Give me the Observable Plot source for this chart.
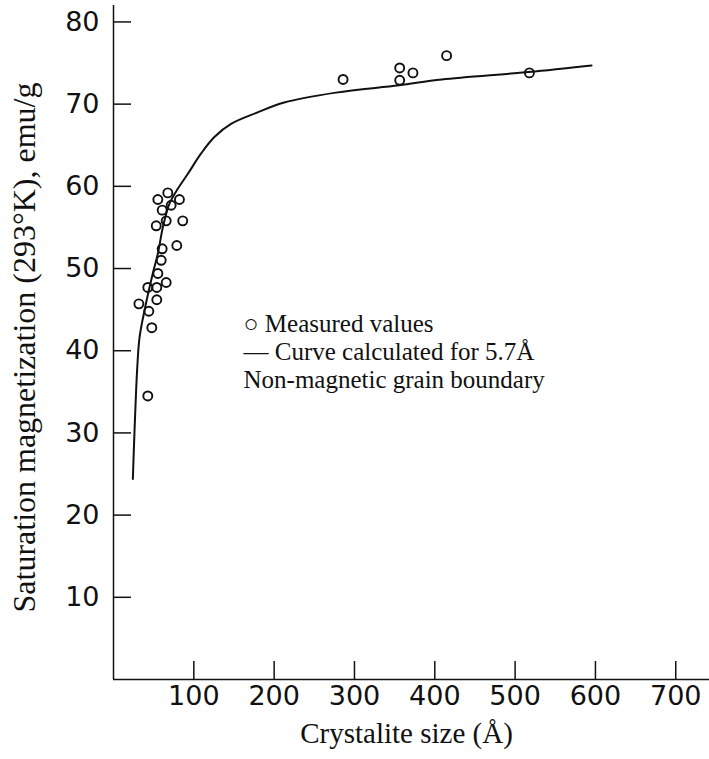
<!DOCTYPE html>
<html><head><meta charset="utf-8">
<script src="https://cdn.jsdelivr.net/npm/d3@7"></script>
<script src="https://cdn.jsdelivr.net/npm/@observablehq/plot@0.6"></script>
<style>body{margin:0;background:#fff} svg{display:block}</style>
</head><body><div id="chart"></div>
<script>
// Measured values (crystallite size in Å, saturation magnetization emu/g)
const measuredSize = [67.6, 55.2, 82.1, 71.8, 60.6, 65.6, 86.2, 53.2, 78.8, 60.6, 59.4, 55.2, 65.6, 42.7, 53.9, 53.9, 31.6, 44.0, 47.7, 42.7, 285.8, 356.3, 356.3, 372.8, 414.7, 517.8];
const measuredMs   = [59.2, 58.4, 58.4, 57.7, 57.1, 55.8, 55.8, 55.2, 52.8, 52.4, 51.0, 49.4, 48.3, 47.7, 47.7, 46.2, 45.7, 44.8, 42.8, 34.5, 73.0, 74.4, 72.9, 73.8, 75.9, 73.8];
// Calculated curve (5.7 Å non-magnetic grain boundary)
const curveSize = [24.1, 26.2, 29.6, 32.4, 38.6, 48.9, 55.2, 61.4, 69.7, 80.0, 92.4, 109.1, 125.6, 146.3, 179.4, 212.5, 276.8, 355.4, 408.8, 516.9, 595.2];
const curveMs   = [24.4, 30.3, 38.0, 41.6, 44.9, 49.4, 51.8, 55.0, 57.9, 59.7, 61.5, 64.0, 66.0, 67.6, 69.0, 70.2, 71.4, 72.3, 73.0, 73.9, 74.7];
const xTicks = [100, 200, 300, 400, 500, 600, 700];
const yTicks = [10, 20, 30, 40, 50, 60, 70, 80];
const xLabel = "Crystalite size (Å)";
const yLabel = "Saturation magnetization (293°K), emu/g";
const legendLines = ["○ Measured values", "— Curve calculated for 5.7Å", "Non-magnetic grain boundary"];

const measured = measuredSize.map((s, i) => ({size: s, ms: measuredMs[i]}));
const curve = curveSize.map((s, i) => ({size: s, ms: curveMs[i]}));

const ink = "#111";
const tickFont = "'DejaVu Sans', sans-serif";
const serif = "'Liberation Serif', 'Times New Roman', serif";

const legendMarks = legendLines.map((line, i) =>
  Plot.text([line], {frameAnchor: "top-left", dx: 130, dy: 309 + i * 28, fontSize: 25, fontFamily: serif, fill: ink, textAnchor: "start"})
);

const chart = Plot.plot({
  width: 709,
  height: 759,
  marginLeft: 113,
  marginRight: 0,
  marginTop: 5,
  marginBottom: 80,
  style: {background: "#fff", color: ink},
  x: {domain: [0, 742]},
  y: {domain: [0, 82]},
  marks: [
    Plot.ruleX([0], {stroke: ink, strokeWidth: 1.5}),
    Plot.ruleY([0], {stroke: ink, strokeWidth: 1.5}),
    Plot.axisX(xTicks, {tickSize: -18, tickPadding: 24, strokeWidth: 1.5, stroke: ink, fontSize: 27, fontFamily: tickFont, label: null, fill: ink}),
    Plot.axisY(yTicks, {tickSize: -18, tickPadding: 32, strokeWidth: 1.5, stroke: ink, fontSize: 27, fontFamily: tickFont, label: null, fill: ink}),
    Plot.line(curve, {x: "size", y: "ms", curve: "catmull-rom", stroke: ink, strokeWidth: 2}),
    Plot.dot(measured, {x: "size", y: "ms", r: 4.5, stroke: ink, strokeWidth: 1.9, fill: "none"}),
    Plot.text([xLabel], {frameAnchor: "bottom", dx: -5, dy: 63, fontSize: 29, fontFamily: serif, fill: ink}),
    Plot.text([yLabel], {frameAnchor: "left", rotate: -90, textAnchor: "middle", dx: -89, dy: 5, fontSize: 32, fontFamily: serif, fill: ink}),
    ...legendMarks
  ]
});
document.getElementById("chart").appendChild(chart);
</script>
</body></html>
